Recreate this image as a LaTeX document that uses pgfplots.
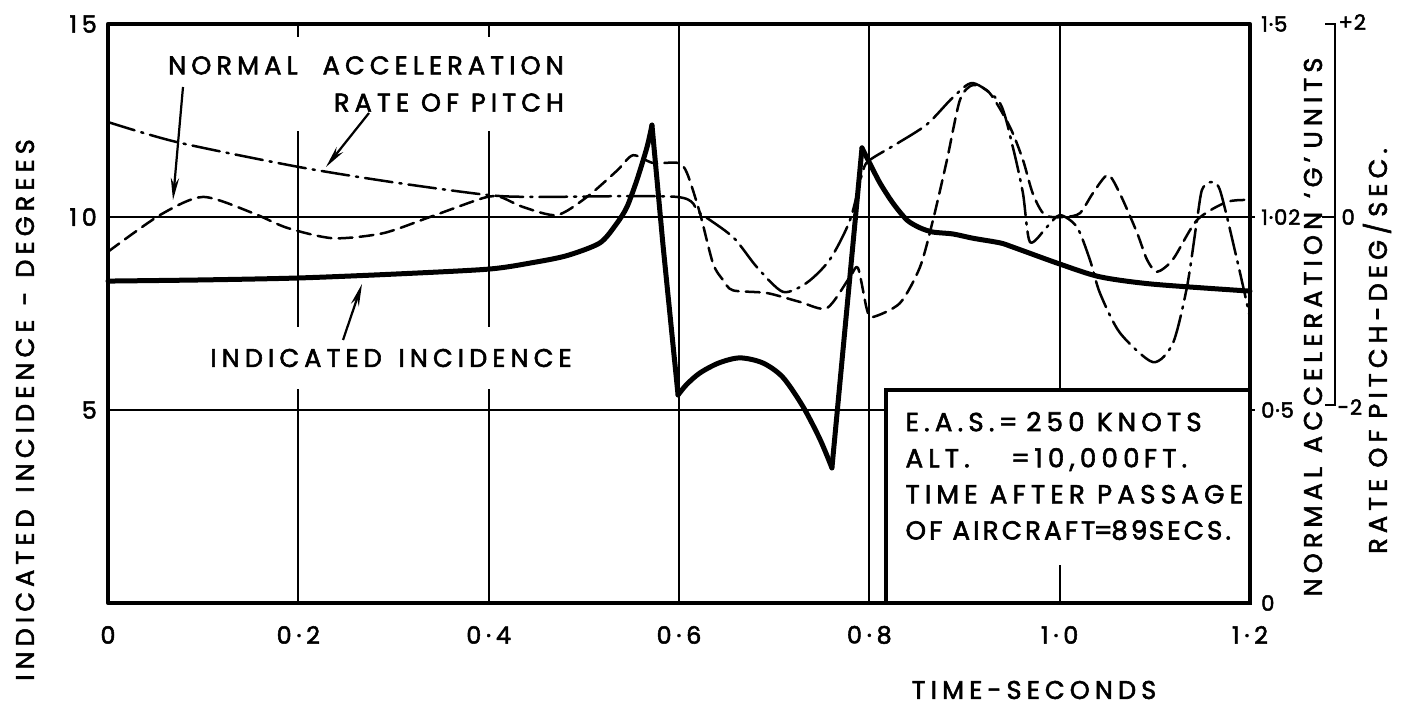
\documentclass[border=0pt]{standalone}
\usepackage{fontspec}
\setmainfont{Poppins}[LetterSpace=20, FakeBold=2.2]
\newfontfamily\tickfont{Poppins}[LetterSpace=4, FakeBold=2.2]
\usepackage{pgfplots}
\pgfplotsset{compat=1.18}
\usetikzlibrary{arrows.meta}
\begin{document}
\begin{tikzpicture}
\tikzset{lbl/.style={font=\fontsize{9.2}{11}\selectfont, inner sep=0pt}}
\begin{axis}[
  at={(0,0)}, anchor=south west, scale only axis,
  width=411.12pt, height=208.44pt,
  xmin=0, xmax=1.2, ymin=0, ymax=15,
  xtick={0,0.2,0.4,0.6,0.8,1.0,1.2},
  xticklabels={0,0·2,0·4,0·6,0·8,1·0,1·2},
  ytick={5,10,15}, yticklabels={5,10,15},
  grid=major, grid style={black, line width=0.7pt},
  major tick length=0pt,
  axis line style={line width=1.5pt},
  tick label style={font=\fontsize{8.6}{10}\selectfont},
  xticklabel style={anchor=center, yshift=-11.5pt},
  yticklabel style={anchor=east, xshift=-0.5pt},
  ytick pos=left, xtick pos=bottom,
  clip=false,
  line join=round, line cap=round,
]
% normal acceleration (dashed)
\addplot[black, line width=0.9pt, dash pattern=on 5pt off 2.6pt, smooth, tension=0.45] coordinates {
(0,9.10) (0.0546,10.05) (0.0998,10.52) (0.1524,10.10) (0.1881,9.72) (0.2364,9.45)
(0.2890,9.58) (0.3383,10.0) (0.3940,10.49) (0.4119,10.52) (0.4361,10.26) (0.4718,10.05)
(0.5033,10.52) (0.5348,11.2) (0.5516,11.6) (0.5727,11.4) (0.5990,11.4) (0.6084,11.14)
(0.6220,10.1) (0.6357,8.8) (0.6462,8.37) (0.6567,8.1) (0.6924,8.03) (0.7271,7.8)
(0.7555,7.64) (0.7797,8.45) (0.7881,8.68) (0.7975,7.6) (0.8038,7.41) (0.8322,7.77)
(0.8532,8.7) (0.8669,9.92) (0.8816,11.48) (0.8952,13.03) (0.9089,13.42) (0.9268,13.2)
(0.9478,12.33) (0.9614,11.48) (0.9719,10.6) (0.9845,10.05) (1.0056,10.0) (1.0213,10.1)
(1.035,10.62) (1.0507,11.09) (1.0634,10.6) (1.0812,9.6) (1.0917,8.9) (1.1022,8.58)
(1.1190,8.9) (1.1443,9.92) (1.1758,10.39) (1.2,10.44)};
% rate of pitch (dash-dot)
\addplot[black, line width=0.9pt, dash pattern=on 10pt off 2.5pt on 0.8pt off 2.5pt, smooth, tension=0.45] coordinates {
(0,12.46) (0.0725,11.94) (0.1996,11.3) (0.2995,10.9) (0.3993,10.57) (0.4508,10.52)
(0.5979,10.52) (0.6220,10.1) (0.6567,9.48) (0.6819,8.7) (0.7093,8.06) (0.7345,8.3)
(0.7586,8.9) (0.7797,9.92) (0.7933,11.2) (0.8007,11.48) (0.8290,11.9) (0.8606,12.4)
(0.8879,13.1) (0.9089,13.47) (0.9373,12.95) (0.9509,11.8) (0.9614,10.62) (0.9688,9.35)
(0.9866,9.74) (1.0003,10.05) (1.0182,9.74) (1.0318,8.89) (1.0423,8.03) (1.0633,7.0)
(1.0980,6.24) (1.1190,6.73) (1.1338,8.19) (1.1443,9.92) (1.1495,10.7) (1.1579,10.9)
(1.1684,10.7) (1.1863,8.9) (1.2,7.4)};
% indicated incidence (solid)
\addplot[black, line width=1.8pt, smooth, tension=0.45] coordinates {
(0,8.34) (0.1,8.37) (0.2,8.42) (0.3,8.52) (0.4,8.65) (0.4466,8.82) (0.4823,9.0)
(0.5170,9.33) (0.5348,9.84) (0.5453,10.26) (0.5558,10.96) (0.5664,11.81) (0.5716,12.38)};
\addplot[black, line width=1.8pt] coordinates {(0.5716,12.38) (0.5832,9.27) (0.599,5.39)};
\addplot[black, line width=1.8pt, smooth, tension=0.5] coordinates {
(0.599,5.39) (0.608,5.66) (0.622,5.96) (0.642,6.22) (0.664,6.35) (0.688,6.22)
(0.709,5.85) (0.730,5.1) (0.748,4.25) (0.7607,3.5)};
\addplot[black, line width=1.8pt] coordinates {(0.7607,3.5) (0.7923,11.79)};
\addplot[black, line width=1.8pt, smooth, tension=0.45] coordinates {
(0.7923,11.79) (0.7986,11.48) (0.8112,10.88) (0.8248,10.36) (0.8396,9.92) (0.8532,9.72)
(0.8669,9.61) (0.8879,9.56) (0.9089,9.45) (0.9373,9.33) (0.9509,9.22) (1.0003,8.78)
(1.0423,8.45) (1.0980,8.26) (1.2,8.08)};
\end{axis}
\begin{axis}[
  at={(0,0)}, anchor=south west, scale only axis,
  width=411.12pt, height=208.44pt,
  xmin=0, xmax=1.2, ymin=0, ymax=15,
  axis x line=none, axis y line*=right,
  y axis line style={draw=none},
  ytick={0,5,10,15}, yticklabels={0,0·5,1·02,1·5},
  major tick length=0pt,
  tick label style={font=\tickfont\fontsize{7.6}{9}\selectfont},
  yticklabel style={anchor=west, xshift=0.5pt},
]
\addplot[draw=none, forget plot] coordinates {(0,0)};
\end{axis}
\begin{scope}[shift={(-38.88pt,217.08pt)}, x=0.36pt, y=-0.36pt]
\useasboundingbox (0,0) rectangle (1409,708);
% annotation text
\node[lbl, fill=white, inner xsep=3pt, inner ysep=7pt, align=right] at (366,84)
  {NORMAL\hspace{9pt}ACCELERATION\\[2.4pt]RATE OF PITCH};
\node[lbl, fill=white, inner xsep=2pt, inner ysep=8pt] at (391,358) {INDICATED\hspace{6pt}INCIDENCE};
\draw[line width=0.8pt, -{Stealth[length=8pt,width=3pt]}] (183,87) -- (173,200);
\draw[line width=0.8pt, -{Stealth[length=8pt,width=3pt]}] (369,113) -- (326,167);
\draw[line width=0.8pt, -{Stealth[length=8pt,width=3pt]}] (343,340) -- (362,284);
% info box
\draw[line width=1.5pt, fill=white] (886,390) rectangle (1250,603);
\draw[line width=0.7pt] (1060,565) -- (1060,603);
\node[font=\fontsize{9.4}{13}\selectfont, anchor=west, align=left, inner sep=0pt] at (905,476)
  {E.A.S.\,=\,\,250 KNOTS\\
   \makebox[38pt][l]{ALT.}=\,10,000\,FT.\\
   TIME AFTER PASSAGE\\
   {\addfontfeature{LetterSpace=12}OF AIRCRAFT\hspace{-0.5pt}=\hspace{-0.5pt}89\hspace{0.5pt}SECS.}};
% small outward ticks on right border
\draw[line width=0.8pt] (1250,217) -- (1255,217);
\draw[line width=0.8pt] (1250,410) -- (1255,410);
% rate of pitch scale
\draw[line width=1pt] (1325,24) -- (1335,24) -- (1335,405) -- (1325,405);
\draw[line width=0.8pt] (1322,217) -- (1335,217);
\node[font=\tickfont\fontsize{7.6}{9}\selectfont, inner sep=0pt, anchor=west] at (1338,22) {+2};
\node[font=\tickfont\fontsize{7.6}{9}\selectfont, inner sep=0pt, anchor=west] at (1341,217) {0};
\node[font=\tickfont\fontsize{7.6}{9}\selectfont, inner sep=0pt, anchor=west] at (1337,407) {-2};
% axis titles
\node[lbl, rotate=90] at (25,410) {INDICATED\hspace{6pt}INCIDENCE\hspace{5pt}-\hspace{5pt}DEGREES};
\node[lbl, rotate=90] at (1313,327) {NORMAL\hspace{5pt}ACCELERATION\hspace{5pt}‘G’\hspace{3pt}UNITS};
\node[lbl, rotate=90] at (1377,351) {RATE\hspace{4pt}OF\hspace{4pt}PITCH-DEG\hspace{2pt}/\hspace{2pt}SEC.};
\node[lbl] at (1034,690) {TIME-SECONDS};
\end{scope}
\end{tikzpicture}
\end{document}
